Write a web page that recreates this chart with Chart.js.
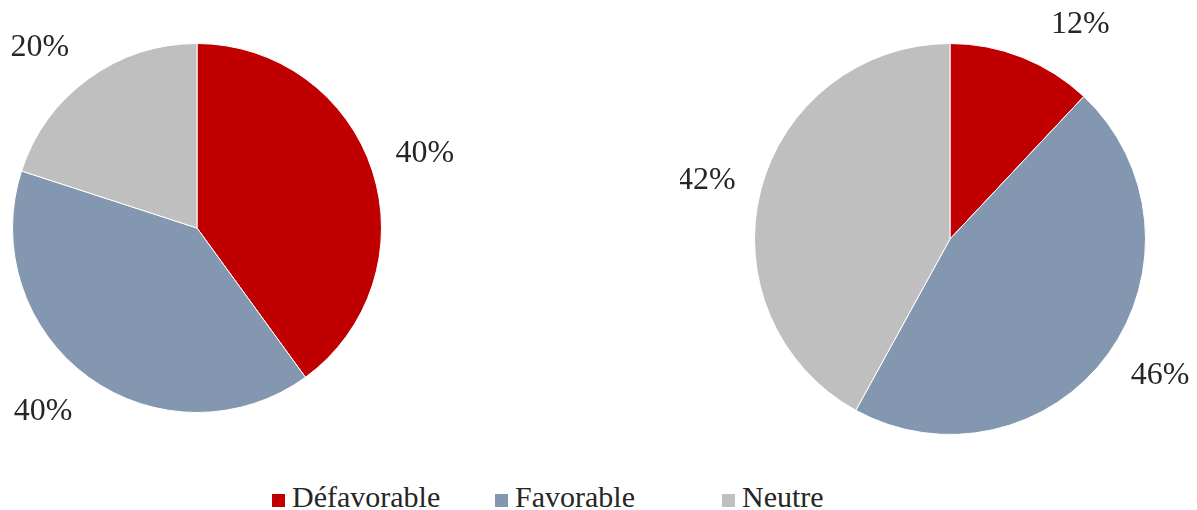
<!DOCTYPE html>
<html>
<head>
<meta charset="utf-8">
<script src="https://cdn.jsdelivr.net/npm/chart.js"></script>
<style>
  body { margin: 0; background: #fff; width: 1197px; height: 510px; position: relative; overflow: hidden; font-family: "Liberation Serif", "DejaVu Serif", serif; }
  canvas { position: absolute; top: 0; }
  #left { left: 0; }
  #right { left: 680px; }
  #legend { position: absolute; left: 272px; top: 482px; display: flex; font-size: 30px; line-height: 30px; color: #262626; white-space: nowrap; }
  #legend .item { display: inline-block; }
  #legend .box { display: inline-block; width: 13px; height: 13px; margin-right: 7px; vertical-align: baseline; }
</style>
</head>
<body>
<canvas id="left" width="470" height="470"></canvas>
<canvas id="right" width="517" height="470"></canvas>
<div id="legend"></div>
<script>
const categories = ['Défavorable', 'Favorable', 'Neutre'];
const leftValues = [40, 40, 20];
const rightValues = [12, 46, 42];
const colors = ['#C00000', '#8497B0', '#BFBFBF'];

// draws the "xx%" labels outside each slice
const pctLabels = {
    id: 'pctLabels',
    afterDatasetsDraw(chart, args, opts) {
        const { ctx } = chart;
        const meta = chart.getDatasetMeta(0);
        const data = chart.data.datasets[0].data;
        ctx.save();
        ctx.font = '32px "Liberation Serif"';
        ctx.fillStyle = '#262626';
        ctx.textAlign = 'center';
        ctx.textBaseline = 'middle';
        meta.data.forEach((arc, i) => {
            const p = arc.getProps(['x', 'y', 'startAngle', 'endAngle', 'outerRadius'], true);
            const mid = (p.startAngle + p.endAngle) / 2 + (opts.nudge[i] || 0) * Math.PI / 180;
            const d = p.outerRadius + opts.gap;
            let dx = Math.cos(mid) * d, dy = Math.sin(mid) * d;
            if (p.y + dy < opts.minY) {
                dy = opts.minY - p.y;
                dx = Math.sign(dx || 1) * Math.sqrt(Math.max(d * d - dy * dy, 0));
            }
            ctx.fillText(data[i] + '%', p.x + dx, p.y + dy);
        });
        ctx.restore();
    }
};

function makePie(id, values, padding, nudge) {
    return new Chart(document.getElementById(id), {
        type: 'pie',
        data: {
            labels: categories,
            datasets: [{
                data: values,
                backgroundColor: colors,
                borderColor: '#ffffff',
                borderWidth: 1
            }]
        },
        options: {
            responsive: false,
            animation: false,
            layout: { padding },
            plugins: {
                legend: { display: false },
                tooltip: { enabled: false },
                pctLabels: { gap: 55, minY: 25, nudge }
            }
        },
        plugins: [pctLabels]
    });
}

makePie('left', leftValues, { left: 11, top: 43, right: 87, bottom: 57 }, [0, 4, -5]);
makePie('right', rightValues, { left: 73, top: 43, right: 50, bottom: 35 }, [0, -3, -1]);

const itemWidths = [223, 227, 0];
document.getElementById('legend').innerHTML = categories.map((c, i) => `
    <span class="item" style="${itemWidths[i] ? 'width:' + itemWidths[i] + 'px' : ''}">
        <span class="box" style="background:${colors[i]}"></span>${c}
    </span>`).join('');
</script>
</body>
</html>
